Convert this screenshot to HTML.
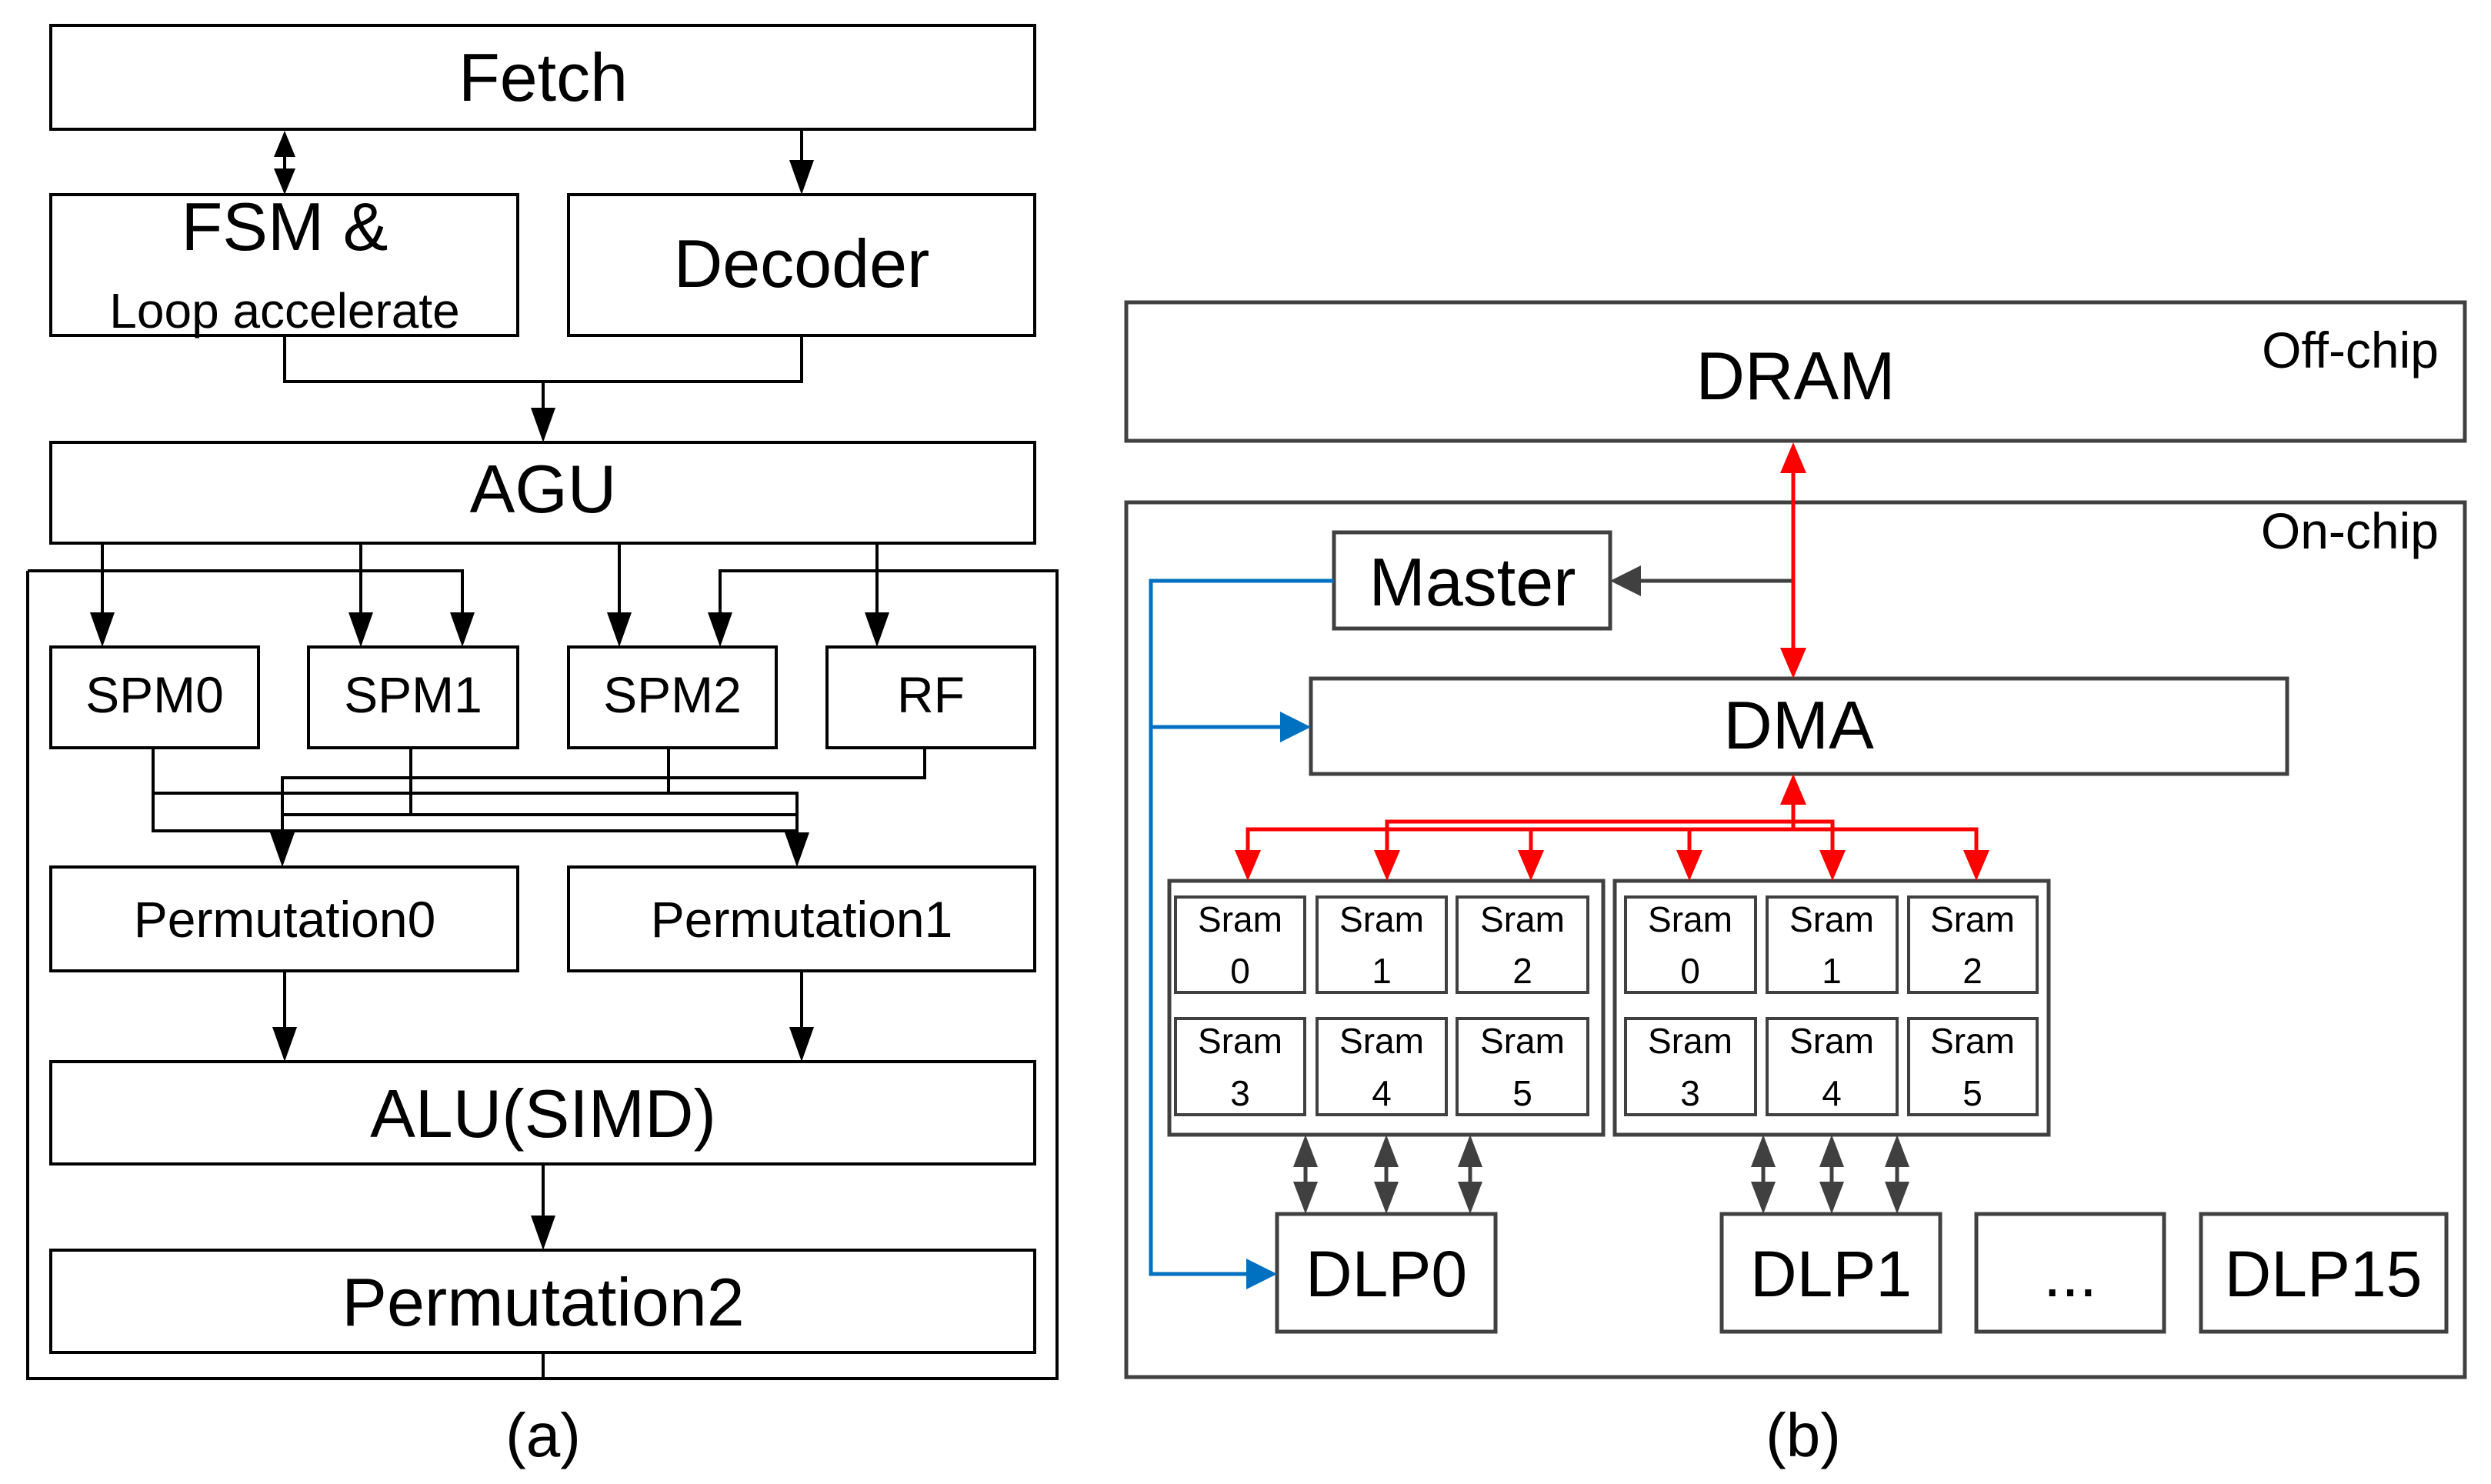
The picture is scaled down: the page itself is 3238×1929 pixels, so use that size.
<!DOCTYPE html>
<html><head><meta charset="utf-8"><style>
html,body{margin:0;padding:0;background:#fff}
svg{display:block}
text{font-family:"Liberation Sans",sans-serif;fill:#000}
</style></head><body>
<svg width="3238" height="1929" viewBox="0 0 3238 1929" xmlns="http://www.w3.org/2000/svg">
<g fill="none" stroke="#000" stroke-width="4">
<rect x="66" y="33" width="1279" height="135"/>
<rect x="66" y="253" width="607" height="183"/>
<rect x="739" y="253" width="606" height="183"/>
<rect x="66" y="575" width="1279" height="131"/>
<rect x="66" y="841" width="270" height="131"/>
<rect x="401" y="841" width="272" height="131"/>
<rect x="739" y="841" width="270" height="131"/>
<rect x="1075" y="841" width="270" height="131"/>
<rect x="66" y="1127" width="607" height="135"/>
<rect x="739" y="1127" width="606" height="135"/>
<rect x="66" y="1380" width="1279" height="133"/>
<rect x="66" y="1625" width="1279" height="133"/>
<path d="M36 742 L601 742 L601 800 M936 800 L936 742 L1374 742 L1374 1792 L36 1792 L36 742"/>
<path d="M370 190 L370 232"/>
<path d="M1042 168 L1042 215"/>
<path d="M370 436 L370 496 L1042 496 L1042 436 M706 496 L706 540"/>
<path d="M133 706 L133 805 M469 706 L469 805 M805 706 L805 805 M1140 706 L1140 805"/>
<path d="M199 972 L199 1080 L1036 1080 M534 972 L534 1059 M869 972 L869 1031 M1202 972 L1202 1011 L367 1011 L367 1090 M199 1031 L1036 1031 L1036 1090 M367 1059 L1036 1059"/>
<path d="M370 1262 L370 1345 M1042 1262 L1042 1345 M706 1513 L706 1590 M706 1758 L706 1792"/>
</g>
<g fill="#000">
<path d="M370 170 l-14 34 h28z M370 253 l-14 -34 h28z"/>
<path d="M1042 253 l-16 -45 h32z"/>
<path d="M706 575 l-16 -45 h32z"/>
<path d="M133 841 l-16 -45 h32z M469 841 l-16 -45 h32z M601 841 l-16 -45 h32z M805 841 l-16 -45 h32z M936 841 l-16 -45 h32z M1140 841 l-16 -45 h32z"/>
<path d="M367 1127 l-16 -45 h32z M1036 1127 l-16 -45 h32z"/>
<path d="M370 1380 l-16 -45 h32z M1042 1380 l-16 -45 h32z M706 1625 l-16 -45 h32z"/>
</g>
<g font-size="88" text-anchor="middle">
<text x="706" y="131">Fetch</text>
<text x="370" y="325">FSM &amp;</text>
<text x="370" y="426" font-size="64">Loop accelerate</text>
<text x="1042" y="373">Decoder</text>
<text x="706" y="666">AGU</text>
<text x="201" y="926" font-size="66">SPM0</text>
<text x="537" y="926" font-size="66">SPM1</text>
<text x="874" y="926" font-size="66">SPM2</text>
<text x="1210" y="926" font-size="66">RF</text>
<text x="370" y="1218" font-size="66">Permutation0</text>
<text x="1042" y="1218" font-size="66">Permutation1</text>
<text x="706" y="1478">ALU(SIMD)</text>
<text x="706" y="1723">Permutation2</text>
<text x="706" y="1893" font-size="80">(a)</text>
</g>

<g fill="none" stroke="#404040" stroke-width="5">
<rect x="1464" y="393" width="1740" height="180"/>
<rect x="1464" y="653" width="1740" height="1137"/>
<rect x="1734" y="692" width="359" height="125"/>
<rect x="1704" y="882" width="1269" height="124"/>
<rect x="1520" y="1145" width="564" height="330"/>
<rect x="2099" y="1145" width="564" height="330"/>
<rect x="1528" y="1166" width="168" height="124" stroke-width="4"/>
<rect x="1712" y="1166" width="168" height="124" stroke-width="4"/>
<rect x="1894" y="1166" width="170" height="124" stroke-width="4"/>
<rect x="1528" y="1324" width="168" height="125" stroke-width="4"/>
<rect x="1712" y="1324" width="168" height="125" stroke-width="4"/>
<rect x="1894" y="1324" width="170" height="125" stroke-width="4"/>
<rect x="2113" y="1166" width="169" height="124" stroke-width="4"/>
<rect x="2297" y="1166" width="169" height="124" stroke-width="4"/>
<rect x="2481" y="1166" width="167" height="124" stroke-width="4"/>
<rect x="2113" y="1324" width="169" height="125" stroke-width="4"/>
<rect x="2297" y="1324" width="169" height="125" stroke-width="4"/>
<rect x="2481" y="1324" width="167" height="125" stroke-width="4"/>
<rect x="1660" y="1578" width="284" height="153"/>
<rect x="2238" y="1578" width="284" height="153"/>
<rect x="2569" y="1578" width="244" height="153"/>
<rect x="2861" y="1578" width="319" height="153"/>
<path d="M2331 755 L2130 755"/>
<path d="M1697 1510 L1697 1545 M1802 1510 L1802 1545 M1911 1510 L1911 1545 M2292 1510 L2292 1545 M2381 1510 L2381 1545 M2466 1510 L2466 1545"/>
</g>
<g fill="#404040">
<path d="M2093 755 l40 -20 v40z"/>
<path d="M1697 1475 l-16 42 h32z M1697 1578 l-16 -42 h32z M1802 1475 l-16 42 h32z M1802 1578 l-16 -42 h32z M1911 1475 l-16 42 h32z M1911 1578 l-16 -42 h32z M2292 1475 l-16 42 h32z M2292 1578 l-16 -42 h32z M2381 1475 l-16 42 h32z M2381 1578 l-16 -42 h32z M2466 1475 l-16 42 h32z M2466 1578 l-16 -42 h32z"/>
</g>
<g fill="none" stroke="#ff0000" stroke-width="5">
<path d="M2331 610 L2331 845"/>
<path d="M2331 1040 L2331 1078 M1803 1105 L1803 1068 L2382 1068 L2382 1105 M1622 1105 L1622 1078 L2569 1078 L2569 1105 M1990 1078 L1990 1105 M2196 1078 L2196 1105"/>
</g>
<g fill="#ff0000">
<path d="M2331 575 l-17 40 h34z M2331 882 l-17 -40 h34z M2331 1006 l-17 40 h34z"/>
<path d="M1622 1145 l-17 -40 h34z M1803 1145 l-17 -40 h34z M1990 1145 l-17 -40 h34z M2196 1145 l-17 -40 h34z M2382 1145 l-17 -40 h34z M2569 1145 l-17 -40 h34z"/>
</g>
<g fill="none" stroke="#0070c0" stroke-width="5">
<path d="M1734 755 L1496 755 L1496 1656 L1625 1656 M1496 945 L1670 945"/>
</g>
<g fill="#0070c0">
<path d="M1704 945 l-40 -20 v40z M1660 1656 l-40 -20 v40z"/>
</g>
<g text-anchor="middle" font-size="88">
<text x="2334" y="519">DRAM</text>
<text x="3170" y="478" font-size="66" text-anchor="end">Off-chip</text>
<text x="3170" y="713" font-size="66" text-anchor="end">On-chip</text>
<text x="1914" y="787">Master</text>
<text x="2338" y="973">DMA</text>
<text x="1802" y="1685" font-size="84">DLP0</text>
<text x="2380" y="1685" font-size="84">DLP1</text>
<text x="2691" y="1685" font-size="84">...</text>
<text x="3020" y="1685" font-size="84">DLP15</text>
<text x="2344" y="1893" font-size="80">(b)</text>
</g>
<g text-anchor="middle" font-size="46">
<text x="1612" y="1211">Sram</text><text x="1612" y="1278">0</text>
<text x="1796" y="1211">Sram</text><text x="1796" y="1278">1</text>
<text x="1979" y="1211">Sram</text><text x="1979" y="1278">2</text>
<text x="1612" y="1369">Sram</text><text x="1612" y="1437">3</text>
<text x="1796" y="1369">Sram</text><text x="1796" y="1437">4</text>
<text x="1979" y="1369">Sram</text><text x="1979" y="1437">5</text>
<text x="2197" y="1211">Sram</text><text x="2197" y="1278">0</text>
<text x="2381" y="1211">Sram</text><text x="2381" y="1278">1</text>
<text x="2564" y="1211">Sram</text><text x="2564" y="1278">2</text>
<text x="2197" y="1369">Sram</text><text x="2197" y="1437">3</text>
<text x="2381" y="1369">Sram</text><text x="2381" y="1437">4</text>
<text x="2564" y="1369">Sram</text><text x="2564" y="1437">5</text>
</g>
</svg>
</body></html>
